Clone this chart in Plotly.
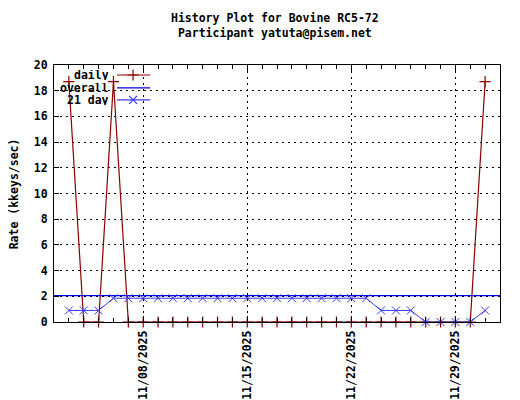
import plotly.graph_objects as go

# history data
days = ["2025-11-03", "2025-11-04", "2025-11-05", "2025-11-06", "2025-11-07",
        "2025-11-08", "2025-11-09", "2025-11-10", "2025-11-11", "2025-11-12",
        "2025-11-13", "2025-11-14", "2025-11-15", "2025-11-16", "2025-11-17",
        "2025-11-18", "2025-11-19", "2025-11-20", "2025-11-21", "2025-11-22",
        "2025-11-23", "2025-11-24", "2025-11-25", "2025-11-26", "2025-11-27",
        "2025-11-28", "2025-11-29", "2025-11-30", "2025-12-01"]
daily_rate = [18.7, 0, 0, 18.7, 0,
              0, 0, 0, 0, 0,
              0, 0, 0, 0, 0,
              0, 0, 0, 0, 0,
              0, 0, 0, 0, 0,
              0, 0, 0, 18.7]
avg21_rate = [0.9, 0.9, 0.9, 1.85, 1.85,
              1.85, 1.85, 1.85, 1.85, 1.85,
              1.85, 1.85, 1.85, 1.85, 1.85,
              1.85, 1.85, 1.85, 1.85, 1.85,
              1.85, 0.9, 0.9, 0.9, 0,
              0, 0, 0, 0.9]
overall_span = ["2025-11-02", "2025-12-02"]
overall_rate = 2.05

RED = "#8b0000"
BLUE = "#0000e0"
BLUE21 = "#3a3aff"
FONT = dict(family="DejaVu Sans Mono", size=11.5, color="black", weight="bold")

fig = go.Figure()

fig.add_trace(go.Scatter(
    x=days, y=daily_rate, mode="lines+markers", name="daily",
    line=dict(color=RED, width=1.2),
    marker=dict(symbol="cross-thin", size=8, line=dict(color=RED, width=1.2)),
    cliponaxis=False
))
fig.add_trace(go.Scatter(
    x=overall_span, y=[overall_rate, overall_rate], mode="lines", name="overall",
    line=dict(color=BLUE, width=1.2)
))
fig.add_trace(go.Scatter(
    x=days, y=avg21_rate, mode="lines+markers", name="21 day",
    line=dict(color=BLUE21, width=1),
    marker=dict(symbol="x-thin", size=8, line=dict(color=BLUE21, width=1)),
    cliponaxis=False
))

# gnuplot style key: text right aligned, sample to the right
key_rows = [("daily", RED, "cross-thin", 0.961),
            ("overall", BLUE, None, 0.911),
            ("21 day", BLUE21, "x-thin", 0.864)]
for label, color, symbol, ky in key_rows:
    fig.add_trace(go.Scatter(
        x=[0.1414, 0.2155], y=[ky, ky], mode="lines", xaxis="x2", yaxis="y2",
        line=dict(color=color, width=1.2), showlegend=False, hoverinfo="skip"
    ))
    if symbol:
        fig.add_trace(go.Scatter(
            x=[0.1773], y=[ky], mode="markers", xaxis="x2", yaxis="y2",
            marker=dict(symbol=symbol, size=8, line=dict(color=color, width=1.2)),
            showlegend=False, hoverinfo="skip"
        ))
    fig.add_annotation(text=label, xref="paper", yref="paper", x=0.1257, y=ky,
                       xanchor="right", yanchor="middle", showarrow=False,
                       height=10, borderpad=0, font=FONT)

# key box hides the grid behind it
fig.add_shape(type="rect", xref="paper", yref="paper", x0=0.002, x1=0.22, y0=0.84, y1=0.998,
              fillcolor="white", line=dict(width=0), layer="between")

fig.add_annotation(text="History Plot for Bovine RC5-72<br>Participant yatuta@pisem.net",
                   xref="paper", yref="paper", x=0.495, y=1.0, yshift=23,
                   xanchor="center", yanchor="bottom", showarrow=False, font=FONT)
fig.add_annotation(text="Rate (kkeys/sec)", xref="paper", yref="paper",
                   x=-0.09, y=0.5, textangle=-90, xanchor="center", yanchor="middle",
                   showarrow=False, font=FONT)

# the page body adds an 8px offset, so margins are set to compensate
fig.update_layout(
    width=520, height=400,
    margin=dict(l=46, r=28, t=57, b=86),
    paper_bgcolor="white", plot_bgcolor="white",
    font=FONT,
    showlegend=False,
    xaxis=dict(
        range=overall_span, type="date", automargin=False,
        tick0="2025-11-01", dtick=7 * 86400000, tickformat="%m/%d/%Y",
        tickangle=-90, ticks="inside", ticklen=6, tickcolor="black",
        ticklabelstandoff=3,
        showline=True, linecolor="black", linewidth=1, mirror="ticks",
        showgrid=True, gridcolor="black", gridwidth=1, griddash="2px,4px",
        minor=dict(dtick=86400000, tick0="2025-11-01", ticks="inside",
                   ticklen=4, tickcolor="black", showgrid=False),
        zeroline=False, tickfont=FONT
    ),
    yaxis=dict(
        range=[0, 20], dtick=2, ticks="inside", ticklen=5, tickcolor="black",
        ticklabelstandoff=3,
        showline=True, linecolor="black", linewidth=1, mirror=True, automargin=False,
        showgrid=True, gridcolor="black", gridwidth=1, griddash="2px,4px",
        zeroline=False, tickfont=FONT
    ),
    xaxis2=dict(range=[0, 1], overlaying="x", visible=False, fixedrange=True),
    yaxis2=dict(range=[0, 1], overlaying="y", visible=False, fixedrange=True),
)

fig.write_html("out.html")
